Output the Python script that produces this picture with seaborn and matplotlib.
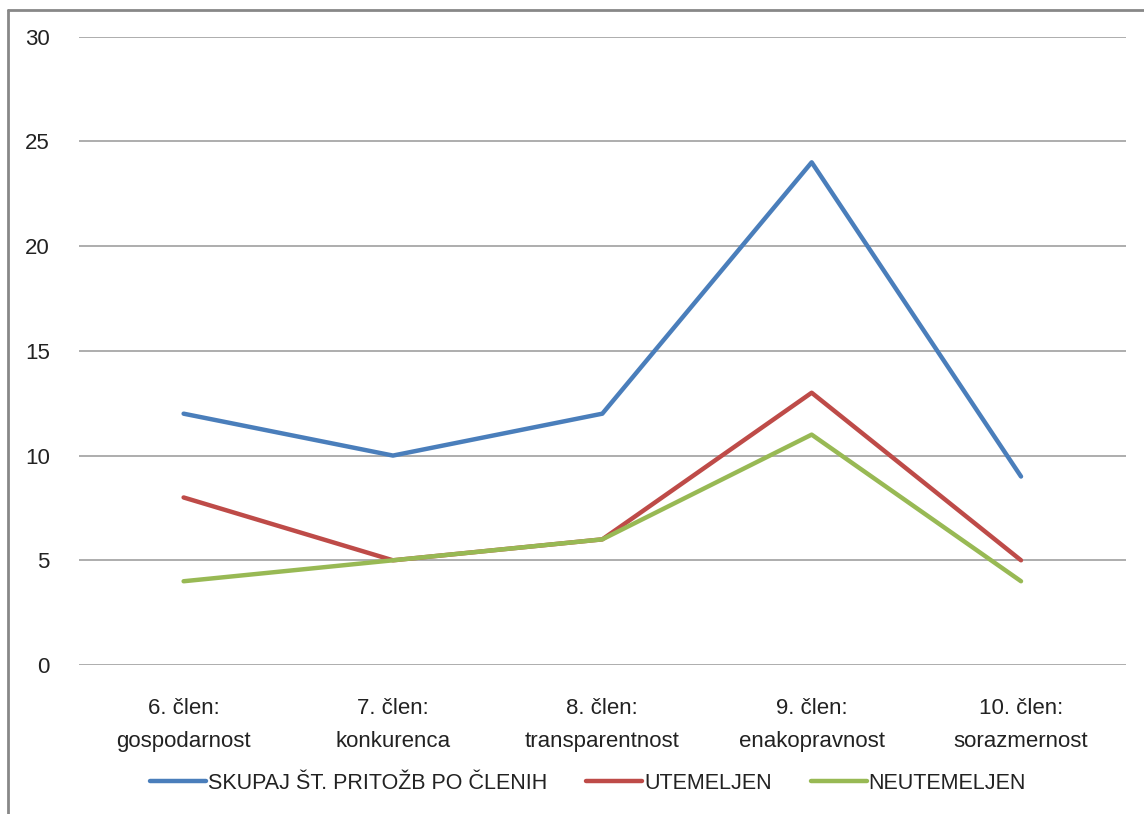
import numpy as np
import matplotlib
matplotlib.use("Agg")
import matplotlib.pyplot as plt
import seaborn as sns
import pandas as pd
from matplotlib.lines import Line2D

categories = ["6. člen:\ngospodarnost", "7. člen:\nkonkurenca", "8. člen:\ntransparentnost",
              "9. člen:\nenakopravnost", "10. člen:\nsorazmernost"]
skupaj = [12, 10, 12, 24, 9]
utemeljen = [8, 5, 6, 13, 5]
neutemeljen = [4, 5, 6, 11, 4]

series_names = ["SKUPAJ ŠT. PRITOŽB PO ČLENIH", "UTEMELJEN", "NEUTEMELJEN"]
colors = ["#4A7EBB", "#BE4B48", "#98B954"]

rows = []
for name, vals in zip(series_names, [skupaj, utemeljen, neutemeljen]):
    for i, v in enumerate(vals):
        rows.append({"pos": i, "value": v, "serie": name})
df = pd.DataFrame(rows)

sns.set_style("white")
plt.rcParams['font.family'] = ['Liberation Sans Narrow', 'Liberation Sans', 'DejaVu Sans']

fig = plt.figure(figsize=(11.44, 8.14), dpi=100)
ax = fig.add_axes([0.069, 0.183, 0.915, 0.772])

sns.lineplot(data=df, x="pos", y="value", hue="serie", hue_order=series_names,
             palette=colors, linewidth=3.2, ax=ax, legend=False, sort=False)

ax.set_xlim(-0.5, len(categories) - 0.5)
ax.set_ylim(0, 30)
ax.set_yticks(range(0, 31, 5))
ax.set_xticks(range(len(categories)))
ax.set_xticklabels(categories, fontsize=16, color="#222222", linespacing=1.7)
ax.tick_params(axis="y", labelsize=16, labelcolor="#222222", pad=21, length=0)
ax.tick_params(axis="x", pad=24, length=0)
ax.set_xlabel("")
ax.set_ylabel("")
ax.yaxis.grid(True, color="#a0a0a0", linewidth=1.2)
ax.set_axisbelow(True)
for s in ax.spines.values():
    s.set_visible(False)

handles = [Line2D([0], [0], color=c, lw=3.2) for c in colors]
fig.legend(handles, series_names, loc="center", bbox_to_anchor=(0.514, 0.038),
           ncol=3, frameon=False, fontsize=15.5, handlelength=2.6, handletextpad=0.1,
           columnspacing=1.8, labelcolor="#222222")

# outer chart frame (left and top edges visible)
fig.add_artist(Line2D([8 / 1144, 8 / 1144], [0, 1 - 10 / 814], transform=fig.transFigure,
                      color="#888888", lw=2))
fig.add_artist(Line2D([8 / 1144, 1], [1 - 10 / 814, 1 - 10 / 814], transform=fig.transFigure,
                      color="#888888", lw=2))

fig.savefig("out.png", dpi=100)
